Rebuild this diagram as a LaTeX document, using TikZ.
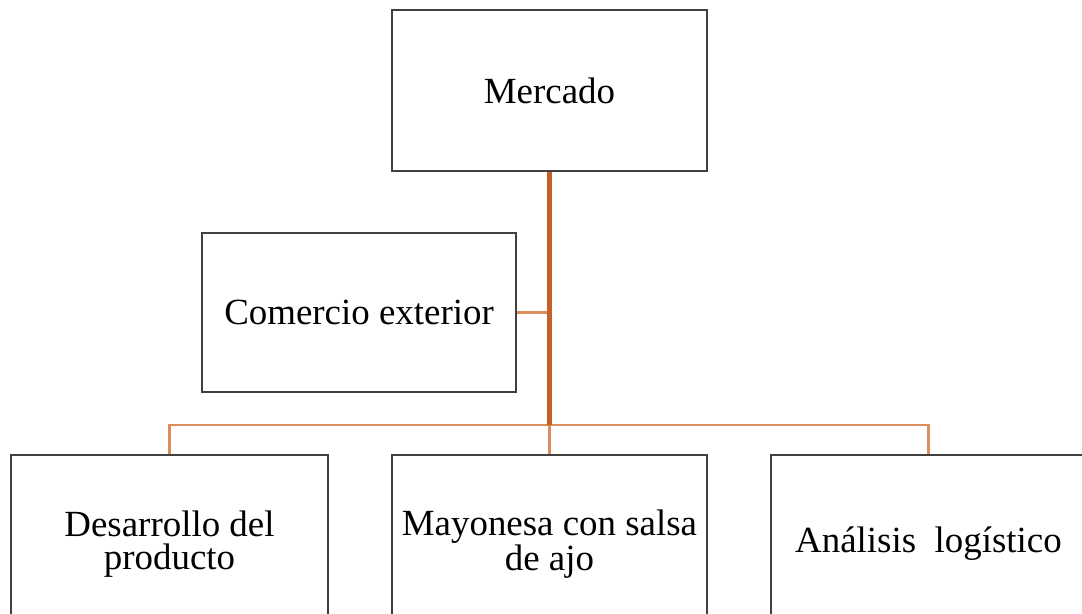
\documentclass[tikz,border=0pt]{standalone}
\usepackage{fontspec}
\setmainfont{Liberation Serif}
\usepackage{tikz}
\usetikzlibrary{positioning}

\definecolor{bordegris}{RGB}{64,64,64}
\definecolor{naranjaosc}{RGB}{197,96,40}
\definecolor{naranjaclr}{RGB}{222,140,92}

\tikzset{
  caja/.style={draw=bordegris, line width=1.1pt, fill=white, align=center,
    minimum width=6.3cm, inner sep=2pt, font=\fontsize{21}{19}\selectfont},
  tronco/.style={draw=naranjaosc, line width=2.6pt},
  rama/.style={draw=naranjaclr, line width=1.6pt}
}

\begin{document}
\begin{tikzpicture}

\useasboundingbox (0,0) rectangle (21.64,-12.26); % margen

% conectores
\coordinate (union) at (10.99,-8.5);

\node[caja, minimum height=3.22cm] (mercado) at (10.99,-1.81) {Mercado}; % caja superior
\node[caja, minimum width=6.28cm, minimum height=3.18cm] (comercio) at (7.18,-6.25) {Comercio exterior};

% cajas inferiores
\node[caja, minimum width=6.34cm, minimum height=3.56cm] (desarrollo) at (3.39,-10.88) {Desarrollo del\\producto};
\node[caja, minimum height=3.56cm] (mayonesa) at (10.99,-10.88) {Mayonesa con salsa\\de ajo};
\node[caja, minimum height=3.56cm] (logistico) at (18.57,-10.88) {Análisis\ \ logístico};

\draw[rama] (desarrollo.north) |- (union) -| (logistico.north);
\draw[rama] (union) -- (mayonesa.north);
\draw[rama] (comercio.east) -- (comercio.east -| union);
\draw[tronco] (mercado.south) -- (union); % linea central

\end{tikzpicture}
\end{document}
